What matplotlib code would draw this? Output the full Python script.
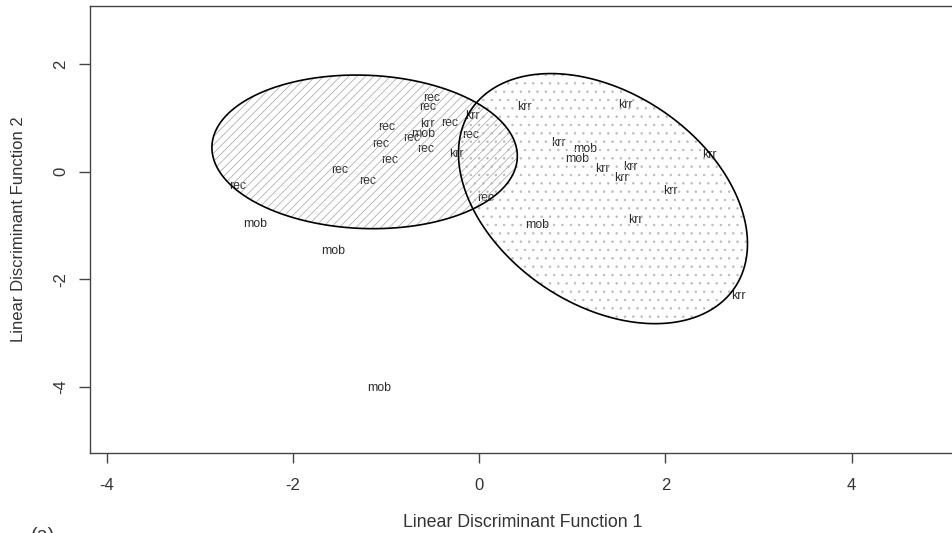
import numpy as np
import matplotlib
matplotlib.use("Agg")
import matplotlib.pyplot as plt
from matplotlib.patches import Polygon

plt.rcParams['font.family'] = ['Liberation Sans', 'DejaVu Sans']
plt.rcParams['hatch.linewidth'] = 0.5

# discriminant scores, one label per observation
rec_x = [-2.59, -0.99, -1.06, -0.96, -1.50, -1.20, -0.51, -0.55, -0.32, -0.72, -0.57, -0.09, 0.07]
rec_y = [-0.26, 0.84, 0.51, 0.21, 0.03, -0.17, 1.37, 1.21, 0.90, 0.62, 0.42, 0.68, -0.49]

mob_x = [-0.60, -2.41, -1.57, -1.07, 1.14, 1.05, 0.62]
mob_y = [0.70, -0.98, -1.47, -4.03, 0.42, 0.23, -0.99]

krr_x = [-0.56, -0.24, -0.07, 0.49, 1.57, 0.85, 1.32, 1.62, 1.53, 2.05, 2.47, 1.68, 2.78]
krr_y = [0.88, 0.33, 1.03, 1.21, 1.24, 0.53, 0.05, 0.08, -0.11, -0.36, 0.31, -0.90, -2.32]

# group ellipses: centre and 2x2 shape matrix (maps unit circle to ellipse)
rec_centre = [-1.23, 0.37]
rec_shape = [[1.64, 0.0], [-0.08, 1.427]]
krr_centre = [1.33, -0.50]
krr_shape = [[1.552, 0.0], [-0.84, 2.17]]

xticks = [-4, -2, 0, 2, 4]
yticks = [-4, -2, 0, 2]


def ellipse_points(centre, shape, n=300):
    t = np.linspace(0, 2 * np.pi, n)
    circ = np.vstack([np.cos(t), np.sin(t)])
    pts = np.array(shape) @ circ
    return np.column_stack([pts[0] + centre[0], pts[1] + centre[1]])


fig = plt.figure(figsize=(9.53, 5.33), dpi=100)
ax = fig.add_axes([0.0941, 0.1495, 0.909, 0.8398])
ax.set_xlim(-4.183, 5.121)
ax.set_ylim(-5.24, 3.09)

txt_kw = dict(ha='center', va='center', fontsize=8.8, color='#2a2a2a', zorder=2)
for name, xs, ys in [('rec', rec_x, rec_y), ('mob', mob_x, mob_y), ('krr', krr_x, krr_y)]:
    for x, y in zip(xs, ys):
        ax.text(x, y, name, **txt_kw)

rec_pts = ellipse_points(rec_centre, rec_shape)
krr_pts = ellipse_points(krr_centre, krr_shape)

# fill patterns drawn over the labels, outlines on top
ax.add_patch(Polygon(rec_pts, closed=True, fill=False, hatch='////',
                     edgecolor='#a2a2a2', linewidth=0, zorder=3))
ax.add_patch(Polygon(krr_pts, closed=True, fill=False, hatch='..',
                     edgecolor='#b8b8b8', linewidth=0, zorder=3))
for pts in (rec_pts, krr_pts):
    ax.add_patch(Polygon(pts, closed=True, fill=False, edgecolor='black',
                         linewidth=1.2, zorder=4))

for s in ax.spines.values():
    s.set_color('#444444')
    s.set_linewidth(1.0)

ax.set_xticks(xticks)
ax.set_yticks(yticks)
ax.set_xticklabels([str(v) for v in xticks])
ax.set_yticklabels([str(v) for v in yticks], rotation=90, va='center')
ax.tick_params(axis='x', length=7.5, width=1.0, color='#444444', pad=10.5,
               labelsize=12, labelcolor='#333333')
ax.tick_params(axis='y', length=8, width=1.0, color='#444444', pad=7.5,
               labelsize=12, labelcolor='#333333')

ax.set_xlabel('Linear Discriminant Function 1', fontsize=12.8, color='#333333')
ax.set_ylabel('Linear Discriminant Function 2', fontsize=12, color='#333333')
ax.xaxis.set_label_coords(0.5, -0.1535)
ax.xaxis.label.set_va('center')
ax.yaxis.set_label_coords(-0.0827, 0.5)
ax.yaxis.label.set_va('center')

fig.text(0.045, 0.012, '(a)', fontsize=14, color='#333333', va='top', ha='center')

fig.savefig('out.png', dpi=100)
